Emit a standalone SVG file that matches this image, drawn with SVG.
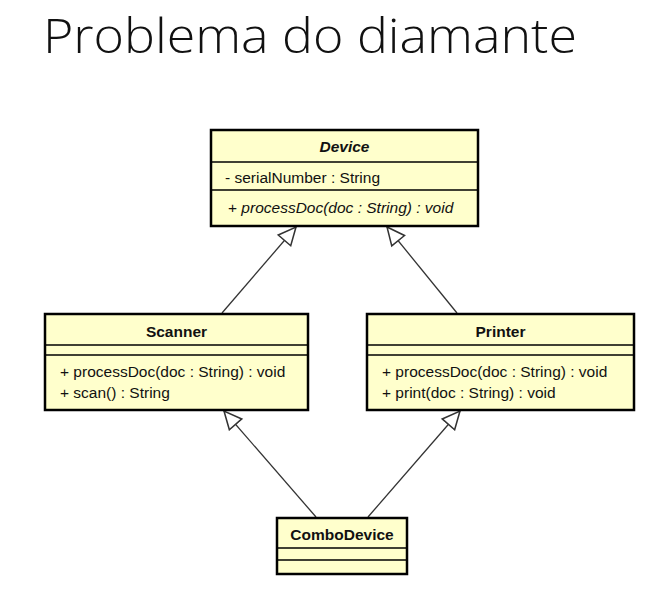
<svg xmlns="http://www.w3.org/2000/svg" width="649" height="592" viewBox="0 0 649 592">
<style>
.box{fill:#FFFFCC;stroke:#000;stroke-width:2.5}
.div{stroke:#000;stroke-width:1.3}
.t{font-family:"Liberation Sans",Arial,sans-serif;font-size:15.5px;fill:#111}
.n{font-family:"Liberation Sans",Arial,sans-serif;font-size:15.5px;font-weight:bold;fill:#111;text-anchor:middle}
.c{stroke:#333;stroke-width:1.3;fill:none;marker-end:url(#tri)}
</style>
<defs>
<marker id="tri" markerUnits="userSpaceOnUse" markerWidth="20" markerHeight="20" viewBox="-1 -8 17 16" refX="15" refY="0" orient="auto">
<path d="M0,-7 L15,0 L0,7 Z" fill="#fff" stroke="#333" stroke-width="1.3"/>
</marker>
</defs>
<rect width="649" height="592" fill="#fff"/>
<text x="43" y="53" font-family="'Open Sans',sans-serif" font-weight="300" font-size="48" fill="#111" textLength="534" lengthAdjust="spacingAndGlyphs">Problema do diamante</text>
<g id="connectors">
<line class="c" x1="222" y1="313" x2="296" y2="227"/>
<line class="c" x1="457" y1="313" x2="387" y2="227"/>
<line class="c" x1="316" y1="517" x2="224" y2="411"/>
<line class="c" x1="368" y1="517" x2="460" y2="411"/>
</g>
<g id="Device">
<rect class="box" x="211" y="130" width="267" height="96"/>
<line class="div" x1="211" y1="162" x2="478" y2="162"/>
<line class="div" x1="211" y1="190" x2="478" y2="190"/>
<text class="n" x="344.5" y="152" font-style="italic">Device</text>
<text class="t" x="225" y="183">- serialNumber : String</text>
<text class="t" x="228" y="213">+ <tspan font-style="italic">processDoc(doc : String) : void</tspan></text>
</g>
<g id="Scanner">
<rect class="box" x="45" y="314" width="263" height="96"/>
<line class="div" x1="45" y1="345" x2="308" y2="345"/>
<line class="div" x1="45" y1="355" x2="308" y2="355"/>
<text class="n" x="176.5" y="337">Scanner</text>
<text class="t" x="60" y="377">+ processDoc(doc : String) : void</text>
<text class="t" x="60" y="398">+ scan() : String</text>
</g>
<g id="Printer">
<rect class="box" x="367" y="314" width="267" height="96"/>
<line class="div" x1="367" y1="345" x2="634" y2="345"/>
<line class="div" x1="367" y1="355" x2="634" y2="355"/>
<text class="n" x="500.5" y="337">Printer</text>
<text class="t" x="382" y="377">+ processDoc(doc : String) : void</text>
<text class="t" x="382" y="398">+ print(doc : String) : void</text>
</g>
<g id="ComboDevice">
<rect class="box" x="277" y="518" width="130" height="56"/>
<line class="div" x1="277" y1="548" x2="407" y2="548"/>
<line class="div" x1="277" y1="560" x2="407" y2="560"/>
<text class="n" x="342" y="540">ComboDevice</text>
</g>
</svg>
